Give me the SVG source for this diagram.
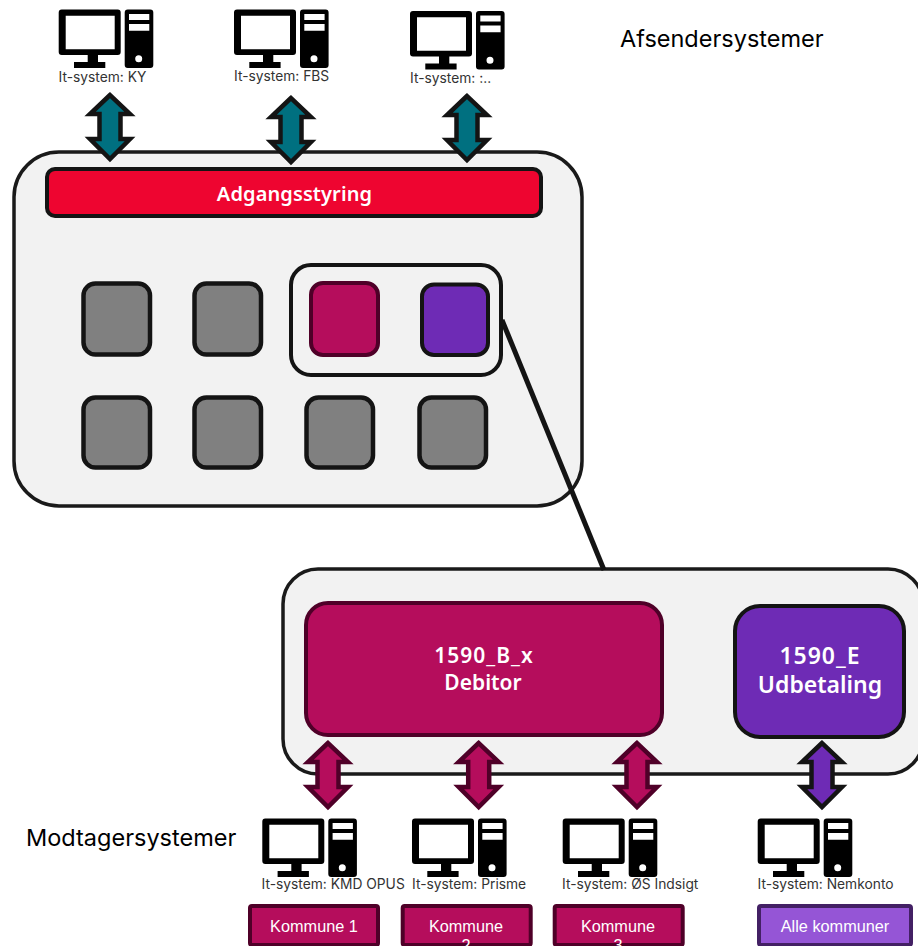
<svg xmlns="http://www.w3.org/2000/svg" width="918" height="946" viewBox="0 0 918 946">
<style>
text{font-family:"Liberation Sans",Arial,sans-serif}
.cont{fill:#f2f2f2;stroke:#1a1a1a;stroke-width:3.5}
.tile{fill:#808080;stroke:#141414;stroke-width:4.5}
.pink{fill:#b50d5c;stroke:#4f0028;stroke-width:4}
.purple{fill:#6e2bb5;stroke:#141414;stroke-width:4}
.teal{fill:#007080;stroke:#141414;stroke-width:4.5;stroke-miterlimit:10}
.apink{fill:#b50d5c;stroke:#4f0028;stroke-width:4.5;stroke-miterlimit:10}
.apurple{fill:#6e2bb5;stroke:#141414;stroke-width:4.5;stroke-miterlimit:10}
.sys{font-family:Inter,"Liberation Sans",sans-serif;font-size:13.8px;fill:#333}
.head{font-family:Inter,"Liberation Sans",sans-serif;font-size:23.5px;fill:#000}
.big{font-family:"Noto Sans",sans-serif;font-weight:600;fill:#fff;text-anchor:middle}
.kom{font-size:16.3px;fill:#fff;text-anchor:middle}
.kb{fill:#b50d5c;stroke:#4f0028;stroke-width:4}
</style>
<defs>
<g id="pc">
<path fill-rule="evenodd" d="M3 0H59a3 3 0 0 1 3 3V42.5a3 3 0 0 1-3 3H3a3 3 0 0 1-3-3V3a3 3 0 0 1 3-3ZM7 6.200V39.800H56V6.200Z"/>
<rect x="29" y="45" width="10.300" height="8"/>
<rect x="15.300" y="52.500" width="31.300" height="6"/>
<path fill-rule="evenodd" d="M69 0H91.600a3 3 0 0 1 3 3V55.500a3 3 0 0 1-3 3H69a3 3 0 0 1-3-3V3a3 3 0 0 1 3-3ZM70.300 4.500V10.500H90.600V4.500ZM70.300 14.500V21.200H90.600V14.500ZM83.500 49.200a3.500 3.500 0 1 0-7 0a3.500 3.500 0 1 0 7 0Z"/>
</g>
<polygon id="arrow" points="0,0 -20,19 -10.500,19 -10.500,44 -20,44 0,64 20,44 10.500,44 10.500,19 20,19"/>
</defs>
<g id="container-top"><rect class="cont" x="14" y="152" width="568" height="354" rx="45"/></g>
<g id="container-bottom"><rect class="cont" x="283" y="569" width="640" height="205" rx="35"/></g>
<g id="adgangsstyring"><rect x="47" y="169" width="494" height="47" rx="8" fill="#ee0530" stroke="#141414" stroke-width="4"/><text class="big" x="294.500" y="201" font-size="20" letter-spacing=".1">Adgangsstyring</text></g>
<g id="group-box"><rect x="291" y="265" width="210" height="110" rx="20" fill="none" stroke="#141414" stroke-width="4"/></g>
<g id="tile-1"><rect class="tile" x="83.500" y="283.500" width="66.500" height="71" rx="12"/></g>
<g id="tile-2"><rect class="tile" x="194.500" y="283.500" width="66.500" height="71" rx="12"/></g>
<g id="tile-3"><rect class="pink" x="311" y="283" width="67" height="72" rx="12"/></g>
<g id="tile-4"><rect class="purple" x="422" y="284.500" width="66" height="70.500" rx="12"/></g>
<g id="tile-5"><rect class="tile" x="83.500" y="397.500" width="66.500" height="70" rx="12"/></g>
<g id="tile-6"><rect class="tile" x="194.500" y="397.500" width="66.500" height="70" rx="12"/></g>
<g id="tile-7"><rect class="tile" x="306.500" y="397.500" width="66.500" height="70" rx="12"/></g>
<g id="tile-8"><rect class="tile" x="419.500" y="397.500" width="66.500" height="70" rx="12"/></g>
<g id="debitor"><rect class="pink" x="306" y="603" width="356" height="132" rx="22"/><text class="big" font-size="21"><tspan x="484" y="663" letter-spacing="1">1590_B_x</tspan><tspan x="483" y="690">Debitor</tspan></text></g>
<g id="udbetaling"><rect class="purple" x="735" y="606" width="169" height="131" rx="25"/><text class="big" font-size="23"><tspan x="820" y="664" letter-spacing="1">1590_E</tspan><tspan x="820" y="693">Udbetaling</tspan></text></g>
<g id="connectors">
<line x1="502" y1="320" x2="604" y2="570" stroke="#141414" stroke-width="5"/>
<use href="#arrow" class="teal" x="110" y="95"/>
<use href="#arrow" class="teal" x="291" y="98"/>
<use href="#arrow" class="teal" x="467" y="96"/>
<use href="#arrow" class="apink" x="328" y="743"/>
<use href="#arrow" class="apink" x="478.700" y="743"/>
<use href="#arrow" class="apink" x="637" y="743"/>
<use href="#arrow" class="apurple" x="822" y="743"/>
</g>
<g id="sys-ky"><use href="#pc" x="58.700" y="9.500"/><text class="sys" x="58.500" y="82">It-system: KY</text></g>
<g id="sys-fbs"><use href="#pc" x="234" y="9.500"/><text class="sys" x="234" y="81">It-system: FBS</text></g>
<g id="sys-dots"><use href="#pc" x="410" y="11"/><text class="sys" x="410" y="83">It-system: :..</text></g>
<g id="sys-kmd"><use href="#pc" x="262.300" y="818.500"/><text class="sys" x="261.500" y="889">It-system: KMD OPUS</text></g>
<g id="sys-prisme"><use href="#pc" x="412" y="818.500"/><text class="sys" x="412" y="889">It-system: Prisme</text></g>
<g id="sys-os"><use href="#pc" x="562.700" y="818.500"/><text class="sys" x="562" y="889">It-system: ØS Indsigt</text></g>
<g id="sys-nem"><use href="#pc" x="757.700" y="818.500"/><text class="sys" x="757.500" y="889">It-system: Nemkonto</text></g>
<g id="kom-1"><rect class="kb" x="250" y="906" width="128" height="39" rx="2"/><text class="kom" x="314" y="932">Kommune 1</text></g>
<g id="kom-2"><rect class="kb" x="402.700" y="906" width="128" height="39" rx="2"/><text class="kom" x="466" y="932">Kommune<tspan x="466" dy="19">2</tspan></text></g>
<g id="kom-3"><rect class="kb" x="554.700" y="906" width="128" height="39" rx="2"/><text class="kom" x="618" y="932">Kommune<tspan x="618" dy="19">3</tspan></text></g>
<g id="kom-4"><rect x="759" y="906" width="152" height="39" rx="2" fill="#9555d6" stroke="#432064" stroke-width="4"/><text class="kom" x="835" y="932">Alle kommuner</text></g>
<text class="head" x="620" y="47">Afsendersystemer</text>
<text class="head" x="26" y="846">Modtagersystemer</text>
</svg>
